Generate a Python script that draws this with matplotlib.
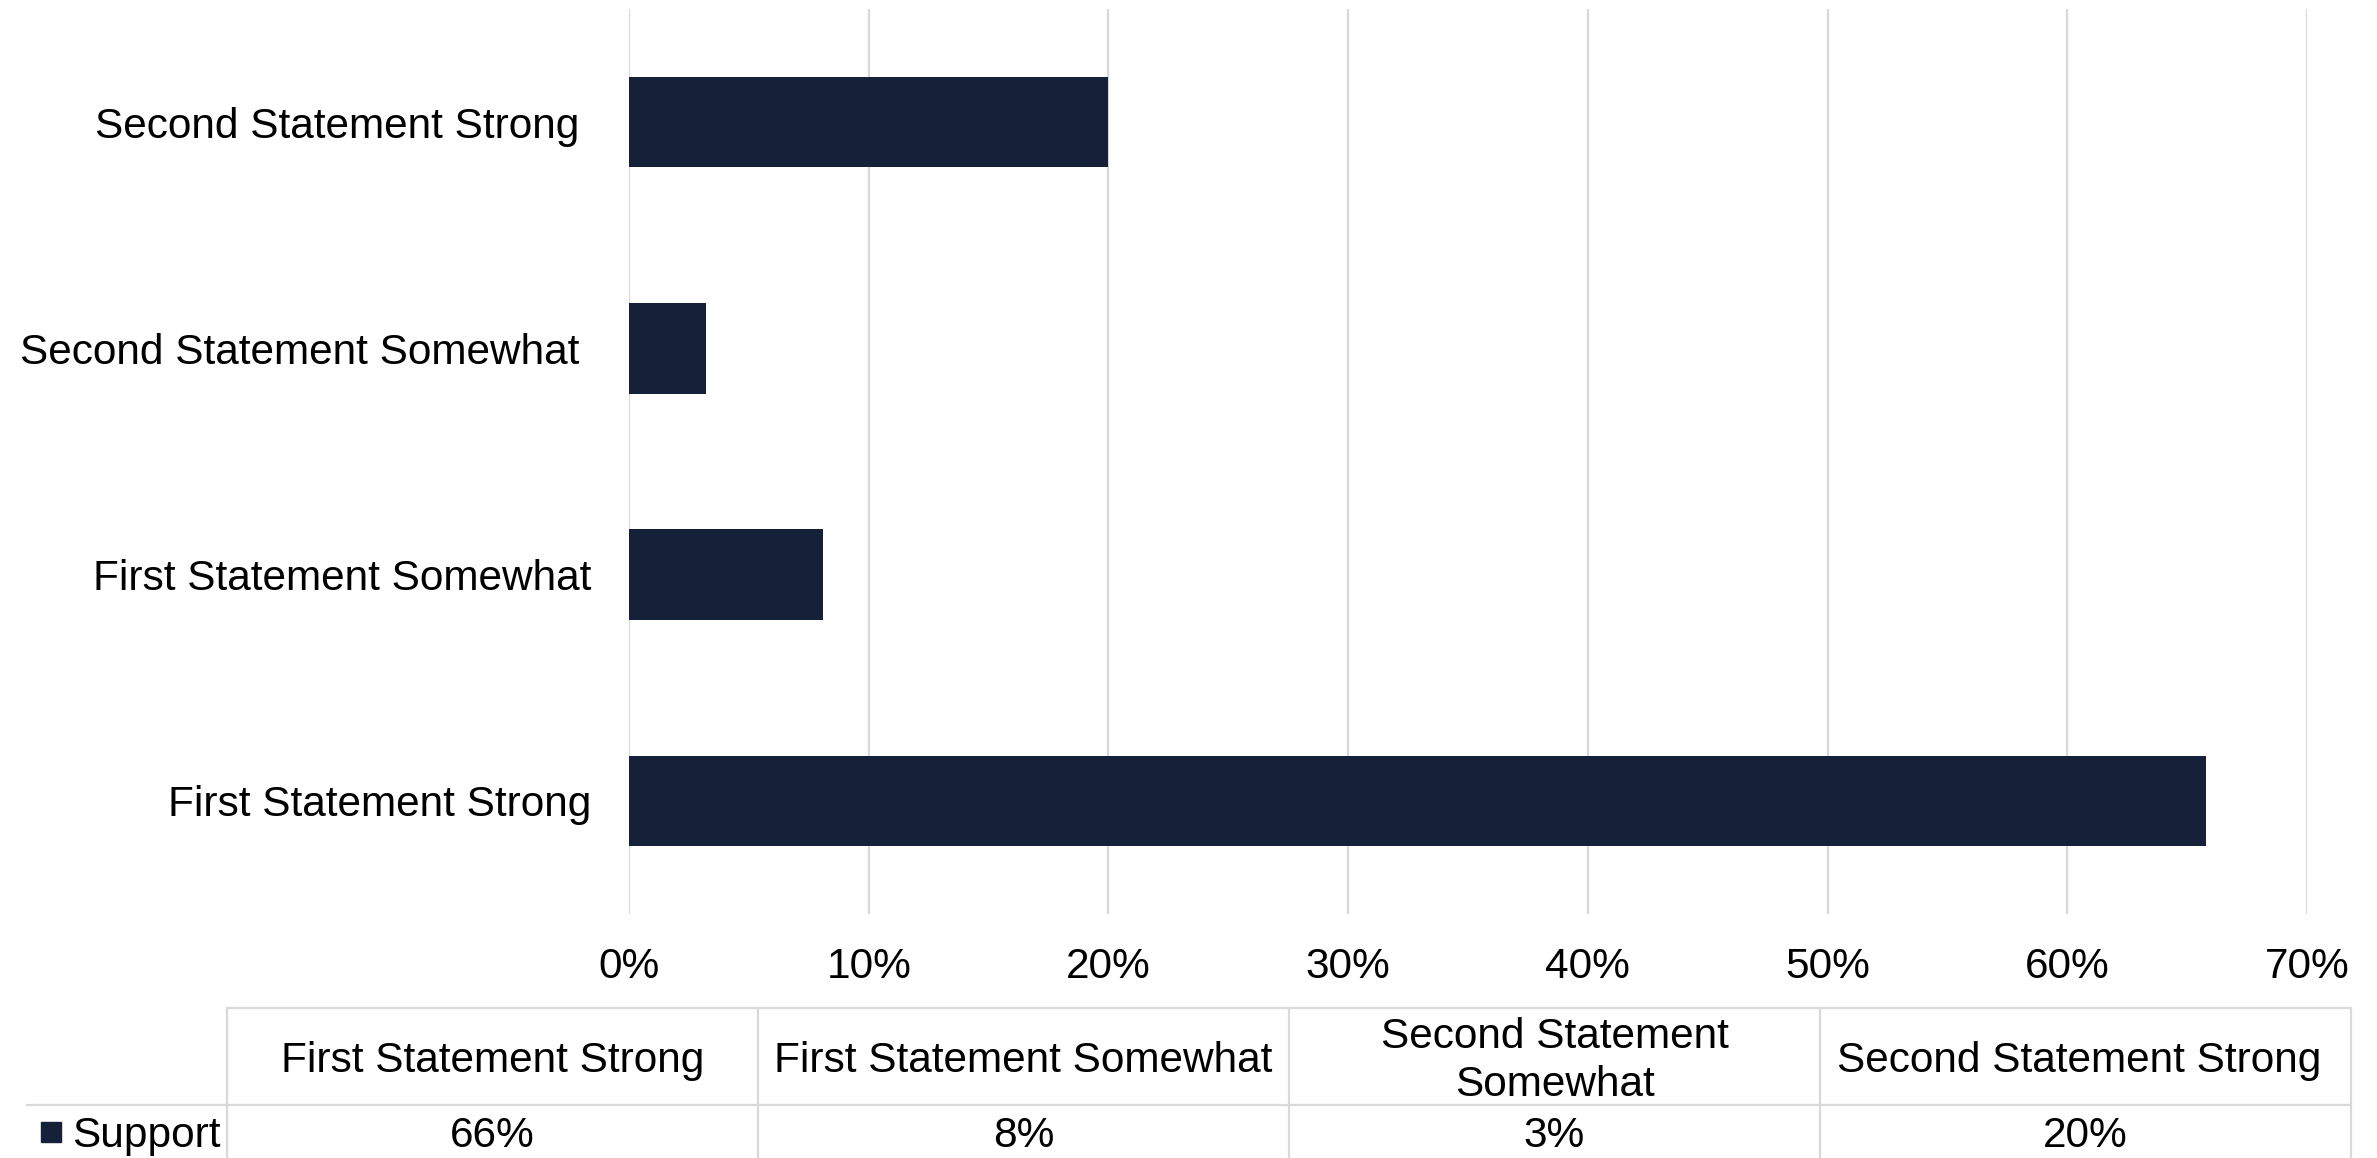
import matplotlib.pyplot as plt
from matplotlib.lines import Line2D
from matplotlib.patches import Rectangle

plt.rcParams['font.family'] = ['Liberation Sans', 'DejaVu Sans']

# Data (bottom to top on the chart)
categories = ['First Statement Strong', 'First Statement Somewhat',
              'Second Statement Somewhat ', 'Second Statement Strong ']
table_headers = ['First Statement Strong', 'First Statement Somewhat',
                 'Second Statement\nSomewhat', 'Second Statement Strong ']
support = [0.658, 0.081, 0.032, 0.200]
series_name = 'Support'
x_ticks = [0, 0.1, 0.2, 0.3, 0.4, 0.5, 0.6, 0.7]

bar_color = '#142138'
grid_color = '#D9D9D9'
fs = 30.5

W, H = 2377, 1158
fig = plt.figure(figsize=(W / 100, H / 100), dpi=100)

# axes placed in pixel terms of the reference
ax = fig.add_axes([629 / W, 1 - 914 / H, 1678 / W, 905 / H])
ax.barh(range(len(categories)), support, height=0.4, color=bar_color, zorder=3)
ax.set_xlim(0, 0.7)
ax.set_ylim(-0.5, len(categories) - 0.5)
ax.set_xticks(x_ticks)
ax.set_xticklabels([f'{int(round(t * 100))}%' for t in x_ticks])
ax.set_yticks(range(len(categories)))
ax.set_yticklabels(categories)
ax.tick_params(axis='both', length=0, labelsize=fs, colors='black')
ax.tick_params(axis='x', pad=24)
ax.tick_params(axis='y', pad=27)
ax.grid(axis='x', color=grid_color, linewidth=1.6, zorder=0)
for s in ax.spines.values():
    s.set_visible(False)


# data table under the chart (drawn in figure pixel coords)
def fx(x):
    return x / W


def fy(y):
    return 1 - y / H


def hline(x0, x1, y):
    fig.add_artist(Line2D([fx(x0), fx(x1)], [fy(y), fy(y)], color=grid_color, lw=1.6))


def vline(x, y0, y1):
    fig.add_artist(Line2D([fx(x), fx(x)], [fy(y0), fy(y1)], color=grid_color, lw=1.6))


col_left = 227
col_w = 531
head_top, head_bot, row_bot = 1008, 1105, 1165
n = len(table_headers)

hline(col_left, col_left + n * col_w, head_top)
hline(27, col_left + n * col_w, head_bot)
for i in range(n + 1):
    vline(col_left + i * col_w, head_top, row_bot)

for i, (hdr, val) in enumerate(zip(table_headers, support)):
    cx = col_left + (i + 0.5) * col_w
    fig.text(fx(cx), fy(1061), hdr, ha='center', va='center', fontsize=fs,
             linespacing=1.27)
    fig.text(fx(cx), fy(1136), f'{round(val * 100):.0f}%', ha='center',
             va='center', fontsize=fs)

# legend key in the row label cell
fig.add_artist(Rectangle((fx(41), fy(1142)), fx(20), 20 / H, color=bar_color))
fig.text(fx(72), fy(1136), series_name, ha='left', va='center', fontsize=fs)

fig.savefig('out.png', dpi=100)
